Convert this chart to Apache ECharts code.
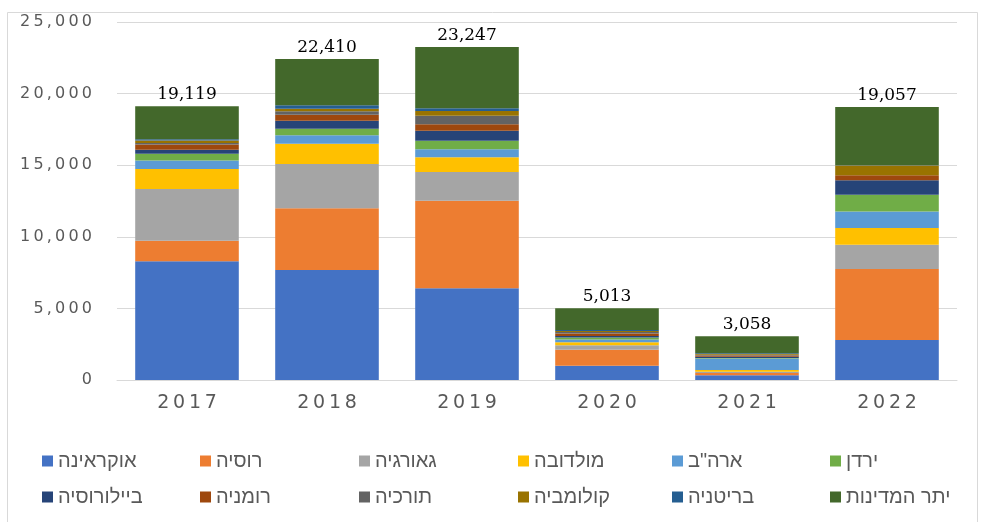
<!DOCTYPE html>
<html>
<head>
<meta charset="utf-8">
<script src="https://cdn.jsdelivr.net/npm/echarts@6/dist/echarts.min.js"></script>
<style>
html, body { margin: 0; padding: 0; background: #fff; }
#main { width: 988px; height: 522px; }
</style>
</head>
<body>
<div id="main"></div>
<script>
var myChart = echarts.init(document.getElementById('main'));

var years = ['2017', '2018', '2019', '2020', '2021', '2022'];
var totals = [19119, 22410, 23247, 5013, 3058, 19057];

var names = ['אוקראינה', 'רוסיה', 'גאורגיה', 'מולדובה', 'ארה"ב', 'ירדן',
    'ביילורוסיה', 'רומניה', 'תורכיה', 'קולומביה', 'בריטניה', 'יתר המדינות'];
var colors = ['#4472C4', '#ED7D31', '#A5A5A5', '#FFC000', '#5B9BD5', '#70AD47',
    '#264478', '#9E480E', '#636363', '#997300', '#255E91', '#43682B'];

var ukraine  = [8300, 7680, 6400, 1000, 330, 2790];
var russia   = [1420, 4310, 6120, 1120, 160, 4960];
var georgia  = [3610, 3090, 2000, 300, 90, 1700];
var moldova  = [1400, 1420, 1030, 210, 115, 1160];
var usa      = [600, 590, 560, 190, 800, 1160];
var jordan   = [470, 460, 600, 140, 50, 1160];
var belarus  = [280, 560, 700, 120, 80, 1020];
var romania  = [370, 420, 450, 170, 80, 350];
var turkey   = [100, 230, 600, 100, 50, 0];
var colombia = [170, 190, 330, 80, 60, 680];
var britain  = [100, 230, 190, 70, 60, 20];
var others   = [2299, 3230, 4267, 1513, 1183, 4057];

var values = [ukraine, russia, georgia, moldova, usa, jordan,
    belarus, romania, turkey, colombia, britain, others];

// the original picture is stretched sideways, so spread the digits a little
function spread(str) {
    return str.split('').join('\u2009');
}

var series = [];
for (var i = 0; i < names.length; i++) {
    var s = {
        name: names[i],
        type: 'bar',
        stack: 'total',
        barCategoryGap: '26%',
        data: values[i],
        itemStyle: { color: colors[i] }
    };
    if (i == names.length - 1) {
        s.label = {
            show: true,
            position: 'top',
            distance: 3,
            color: '#000',
            fontFamily: 'DejaVu Serif',
            fontSize: 17,
            formatter: function (p) {
                return totals[p.dataIndex].toLocaleString('en-US');
            }
        };
    }
    series.push(s);
}

// legend: 2 rows of 6, one legend per item so the columns line up
var legendCols = [37, 195, 354, 513, 667, 825];
var legendRows = [446, 482];
var legends = [];
for (var j = 0; j < names.length; j++) {
    legends.push({
        data: [names[j]],
        left: legendCols[j % 6],
        top: legendRows[Math.floor(j / 6)],
        icon: 'rect',
        itemWidth: 11,
        itemHeight: 11,
        textStyle: {
            color: '#595959',
            fontFamily: 'Liberation Sans',
            fontSize: 20
        }
    });
}

option = {
    backgroundColor: '#fff',
    animation: false,
    graphic: [{
        type: 'rect',
        shape: { x: 7.5, y: 12.5, width: 970, height: 520 },
        style: { fill: 'none', stroke: '#d9d9d9', lineWidth: 1 }
    }],
    grid: {
        left: 117,
        right: 31,
        top: 22,
        bottom: 142
    },
    legend: legends,
    xAxis: {
        type: 'category',
        data: years,
        axisTick: { show: false },
        axisLine: { lineStyle: { color: '#d9d9d9', width: 1 } },
        axisLabel: {
            color: '#595959',
            fontFamily: 'DejaVu Sans',
            fontSize: 19,
            margin: 14,
            formatter: function (v) { return spread(v); }
        }
    },
    yAxis: {
        type: 'value',
        min: 0,
        max: 25000,
        interval: 5000,
        axisLine: { show: false },
        axisTick: { show: false },
        splitLine: { lineStyle: { color: '#d9d9d9', width: 1 } },
        axisLabel: {
            color: '#595959',
            fontFamily: 'DejaVu Sans',
            fontSize: 16,
            margin: 25,
            formatter: function (v) { return spread(v.toLocaleString('en-US')); }
        }
    },
    series: series
};

myChart.setOption(option);
</script>
</body>
</html>
